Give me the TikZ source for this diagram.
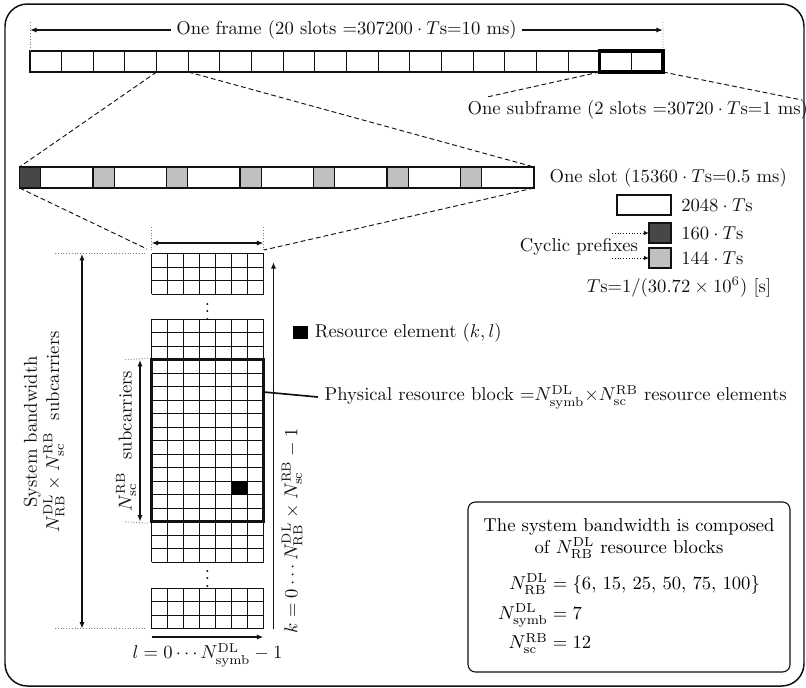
\documentclass[tikz,border=0pt]{standalone}
\usepackage{amsmath}
\usetikzlibrary{arrows.meta,positioning,fit,calc}
\definecolor{lteInk}{HTML}{111111}
\definecolor{cpDark}{HTML}{474747}
\definecolor{cpLight}{HTML}{C0C0C0}
\newlength\pxu
\setlength\pxu{0.537pt}
\tikzset{
  frm/.style     ={draw=lteInk,line width=0.8pt,rounded corners=12pt},
  tbox/.style    ={draw=lteInk,line width=0.55pt,inner sep=0pt,outer sep=0pt},
  fslot/.style   ={tbox,fill=white,minimum width=31.65*\pxu,minimum height=21*\pxu},
  subln/.style   ={draw=black,line width=1.7pt},
  cpbox/.style   ={tbox,minimum width=21.3*\pxu,minimum height=21*\pxu},
  symbox/.style  ={tbox,fill=white,minimum width=52.2*\pxu,minimum height=21*\pxu},
  prb/.style     ={draw=lteInk,line width=1.7pt,inner sep=0pt,
                   minimum width=112*\pxu,minimum height=162*\pxu},
  re/.style      ={fill=black,inner sep=0pt,minimum width=16*\pxu,minimum height=13.5*\pxu},
  cellln/.style  ={lteInk,line width=0.55pt},
  zoomln/.style  ={lteInk,line width=0.5pt,dash pattern=on 2.6pt off 1.6pt},
  guide/.style   ={gray,line width=0.5pt,densely dotted},
  dimarr/.style  ={-{Latex[length=3.6pt,width=2.8pt]},lteInk,line width=0.7pt},
  dimarrb/.style ={{Latex[length=3.6pt,width=2.8pt]}-{Latex[length=3.6pt,width=2.8pt]},lteInk,line width=0.7pt},
  cparr/.style   ={-{Latex[length=2.8pt,width=2.4pt]},lteInk,line width=0.5pt,densely dotted},
  lead/.style    ={lteInk,line width=0.9pt},
  lbl/.style     ={font=\normalsize,text=lteInk},
  infobox/.style ={draw=lteInk,line width=0.6pt,rounded corners=4pt,align=center,
                   minimum width=322*\pxu,minimum height=170*\pxu},
}

\begin{document}
\begin{tikzpicture}[x=\pxu,y=-\pxu,node distance=2pt]
\useasboundingbox (0,0) rectangle (806,688);
\draw[frm] (5,4) rectangle (804,686);

%% one frame = 20 slots
\foreach \i in {1,...,20}
  \node[fslot] (f\i) at ({30+(\i-0.5)*31.65},61.5) {};
\coordinate (fA) at (30,30);
\coordinate (fB) at (663,30);
\coordinate (gfA) at (30,22);
\coordinate (gfB) at (663,22);
\draw[guide] (gfA) -- (f1.north west);
\draw[guide] (gfB) -- (f20.north east);
\draw[dimarrb] (fA) -- node[lbl,fill=white,inner xsep=3pt]{One frame (20 slots =307200${}\cdot T$s=10 ms)} (fB);

\node[lbl,anchor=west] (subtxt) at (461,110) {One subframe (2 slots =30720${}\cdot T$s=1 ms)};
\coordinate (sA) at (487,97);
\coordinate (sB) at (802,100);
\draw[zoomln] (f19.south west) -- (sA);
\draw[zoomln] (f20.south east) -- (sB);

%% one slot = 7 symbols with cyclic prefixes
\foreach \i/\c in {1/cpDark,2/cpLight,3/cpLight,4/cpLight,5/cpLight,6/cpLight,7/cpLight}{
  \pgfmathsetmacro\xs{19.5+(\i-1)*73.5}
  \node[cpbox,fill=\c] (cp\i) at ({\xs+10.65},177.5) {};
  \node[symbox] (sy\i) at ({\xs+21.3+26.1},177.5) {};
}
\node[lbl,anchor=west] (slottxt) at (543,177.5) {One slot (15360${}\cdot T$s=0.5 ms)};
\draw[zoomln] (f5.south west) -- (cp1.north west);
\draw[zoomln] (f5.south east) -- (sy7.north east);

%% legend
\node[tbox,fill=white,minimum width=54*\pxu,minimum height=20*\pxu] (lgsym) at (644,205) {};
\node[lbl,right=of lgsym] (lgsymtxt) {$2048\cdot T$s};
\node[cpbox,fill=cpDark,minimum width=22*\pxu,minimum height=20*\pxu] (lgcpa) at (660,233) {};
\node[lbl,right=of lgcpa] (lgcpatxt) {$160\cdot T$s};
\node[cpbox,fill=cpLight,minimum width=22*\pxu,minimum height=20*\pxu] (lgcpb) at (660,258) {};
\node[lbl,right=of lgcpb] (lgcpbtxt) {$144\cdot T$s};
\node[lbl] (cyc) at (579,247) {Cyclic prefixes};
\coordinate (cA) at (612,233);
\coordinate (cB) at (612,258);
\draw[cparr] (cA) -- (lgcpa.west);
\draw[cparr] (cB) -- (lgcpb.west);
\node[lbl] (tsnote) at (679,287) {$T$s=$1/(30.72\times 10^6)$ [s]};

%% resource grid
\coordinate (gTL) at (147,249);
\coordinate (gTR) at (264,250);
\draw[zoomln] (cp1.south west) -- (gTL);
\draw[zoomln] (sy7.south east) -- (gTR);
\foreach \top/\n in {253.75/3,319.25/18,588.25/3}{
  \foreach \r in {0,...,\n}
    \draw[cellln] (151.5,{\top+\r*13.5}) -- (263.5,{\top+\r*13.5});
  \foreach \c in {0,...,7}
    \draw[cellln] ({151.5+\c*16},\top) -- ({151.5+\c*16},{\top+\n*13.5});
}
\node (dotsA) at (207.5,306) {$\vdots$};
\node (dotsB) at (207.5,573) {$\vdots$};
\node[prb] (prb) at (207.5,440.75) {};
\node[re] (re) at (239.5,488) {};

% width of the block
\coordinate (gaL) at (151.5,243);
\coordinate (gaR) at (263.5,243);
\coordinate (gaLt) at (151.5,227);
\coordinate (gaRt) at (263.5,227);
\draw[guide] (gaLt) -- ($(gaL)+(0,9)$);
\draw[guide] (gaRt) -- ($(gaR)+(0,9)$);
\draw[dimarrb] (gaL) -- (gaR);

% system bandwidth
\coordinate (bwA) at (82,253.75);
\coordinate (bwB) at (82,628.75);
\coordinate (bwAl) at (55,253.75);
\coordinate (bwAr) at (145,253.75);
\coordinate (bwBl) at (55,628.75);
\coordinate (bwBr) at (145,628.75);
\draw[guide] (bwAl) -- (bwAr);
\draw[guide] (bwBl) -- (bwBr);
\draw[dimarrb] (bwA) -- (bwB);
\node[lbl,rotate=90,align=center] (bwtxt) at (44,432)
  {System bandwidth\\ $N^{\mathrm{DL}}_{\mathrm{RB}}\times N^{\mathrm{RB}}_{\mathrm{sc}}$ \ subcarriers};

% block height
\coordinate (scA) at (140,359.75);
\coordinate (scB) at (140,521.75);
\coordinate (scAl) at (125,359.75);
\coordinate (scBl) at (125,521.75);
\draw[guide] (scAl) -- (prb.north west);
\draw[guide] (scBl) -- (prb.south west);
\draw[dimarrb] (scA) -- (scB);
\node[lbl,rotate=90] (sctxt) at (126,441) {$N^{\mathrm{RB}}_{\mathrm{sc}}$ \ subcarriers};

% subcarrier index
\coordinate (kA) at (273.5,628.75);
\coordinate (kB) at (273.5,262);
\draw[dimarr] (kA) -- (kB);
\node[lbl,rotate=90] (ktxt) at (292,531)
  {$k=0\cdots N^{\mathrm{DL}}_{\mathrm{RB}}\times N^{\mathrm{RB}}_{\mathrm{sc}}-1$};

% symbol index
\coordinate (lA) at (151.5,637);
\coordinate (lB) at (263.5,637);
\draw[dimarr] (lA) -- (lB);
\node[lbl] (ltxt) at (207.5,655) {$l=0\cdots N^{\mathrm{DL}}_{\mathrm{symb}}-1$};

%% labels on the right
\node[re,minimum width=15*\pxu,minimum height=13*\pxu] (relg) at (300.5,332.5) {};
\node[lbl,right=0pt of relg] (retxt) {Resource element $(k,l)$};
\node[lbl,anchor=west] (prbtxt) at (318,397)
  {Physical resource block ${=}N^{\mathrm{DL}}_{\mathrm{symb}}{\times}N^{\mathrm{RB}}_{\mathrm{sc}}$ resource elements};
\coordinate (prbtap) at (263.5,392);
\draw[lead] (prbtap) -- (prbtxt.west);

\node[infobox] (info) at (629,587)
  {The system bandwidth is composed\\
   of $N^{\mathrm{DL}}_{\mathrm{RB}}$ resource blocks\\[7pt]
   \begin{tabular}{@{}r@{}l@{}}
   $N^{\mathrm{DL}}_{\mathrm{RB}}$ & ${}=\{6$, 15, 25, 50, 75, 100$\}$\\[4pt]
   $N^{\mathrm{DL}}_{\mathrm{symb}}$ & ${}=7$\\[4pt]
   $N^{\mathrm{RB}}_{\mathrm{sc}}$ & ${}=12$
   \end{tabular}};

% the subframe, drawn last
\draw[subln] (f19.north west) rectangle (f20.south east);
\end{tikzpicture}
\end{document}
